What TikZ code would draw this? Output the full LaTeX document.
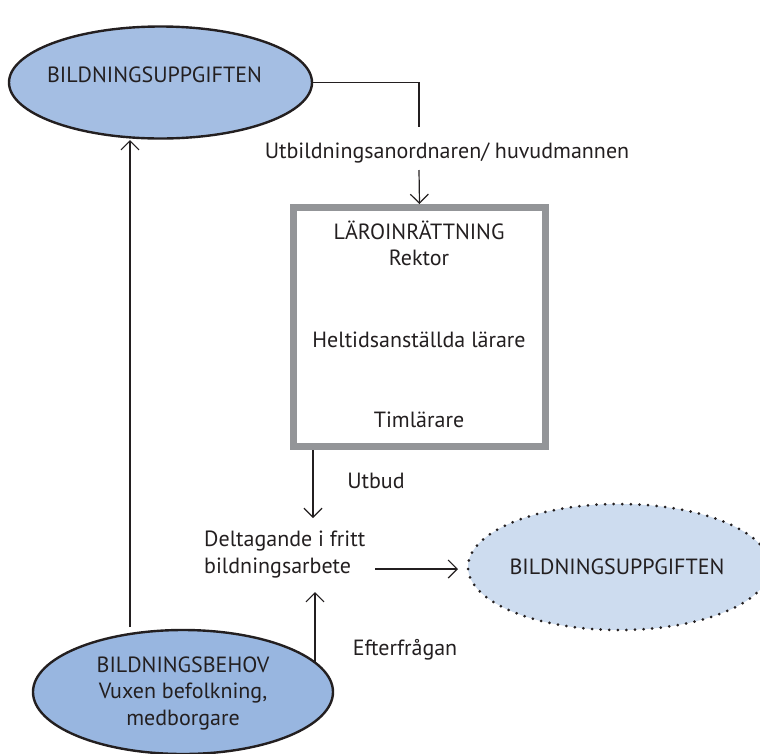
\documentclass[tikz,border=0pt]{standalone}
\usepackage{fontspec}
\setmainfont{PT Sans}
\usetikzlibrary{shapes.geometric,arrows.meta}
\definecolor{ellblue}{HTML}{A4BEE3}
\definecolor{ellblue2}{HTML}{98B6E0}
\definecolor{palblue}{HTML}{CDDCEF}
\definecolor{boxgray}{HTML}{939598}
\definecolor{ink}{HTML}{231F20}
\tikzset{
  txt/.style={font=\fontsize{22}{26.5}\selectfont, text=ink, inner sep=0pt, align=center},
  solidell/.style={ellipse, draw=ink, line width=2.4pt, inner sep=0pt},
  dotell/.style={ellipse, draw=ink, line width=3pt, line cap=round, dash pattern=on 0pt off 8.6pt, fill=palblue, inner sep=0pt},
  schoolbox/.style={rectangle, draw=boxgray, line width=7pt, fill=white, inner sep=0pt},
  conn/.style={draw=ink, line width=1.2pt},
  arr/.style={conn, -{Straight Barb[length=9pt,width=18pt,line width=1.2pt]}}
}
\begin{document}
\begin{tikzpicture}[x=1pt,y=-1pt]
\useasboundingbox (0,0) rectangle (760,753);
% shapes
\node[solidell, fill=ellblue, minimum width=303, minimum height=112] (top) at (160.5,82.5) {};
\node[txt] (toptxt) at (154.5,75) {BILDNINGSUPPGIFTEN};
\node[schoolbox, minimum width=252, minimum height=239] (box) at (419.5,327) {};
\node[txt] (l1) at (419,230) {LÄROINRÄTTNING};
\node[txt] (l2) at (419,258) {Rektor};
\node[txt] (l3) at (419,340) {Heltidsanställda lärare};
\node[txt] (l4) at (419,420) {Timlärare};
\node[dotell, minimum width=302, minimum height=126] (right) at (619,567) {};
\node[txt] (righttxt) at (617,567) {BILDNINGSUPPGIFTEN};
\node[solidell, fill=ellblue2, minimum width=300, minimum height=124] (bot) at (183,692) {};
\node[txt] (bottxt) at (183,693) {BILDNINGSBEHOV\\Vuxen befolkning,\\medborgare};
\node[txt, align=left, anchor=base west] (delt) at (204,573) {Deltagande i fritt\\bildningsarbete};
\node[txt] (utb) at (447,153) {Utbildningsanordnaren/ huvudmannen};
\node[txt] (utbud) at (376,481) {Utbud};
\node[txt] (eft) at (405,650) {Efterfrågan};
% connectors
\coordinate (c1) at (419,127);
\coordinate (c2) at (419,170);
\draw[conn] (top.east) -| (c1);
\draw[arr] (c2) -- (box.north);
\coordinate (u1) at (313,450);
\coordinate (u2) at (313,518);
\draw[arr] (u1) -- (u2);
\coordinate (h1) at (375,569);
\coordinate (h2) at (458,569);
\draw[arr] (h1) -- (h2);
\coordinate (e1) at (315,662);
\coordinate (e2) at (315,592);
\draw[arr] (e1) -- (e2);
\coordinate (b1) at (130,627);
\coordinate (b2) at (130,140);
\draw[arr] (b1) -- (b2);
\end{tikzpicture}
\end{document}
